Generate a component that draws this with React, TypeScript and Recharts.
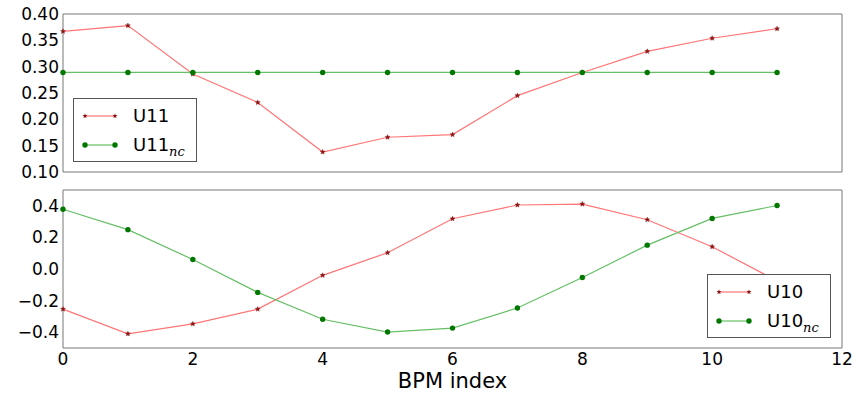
import React from "react";
import { LineChart, Line, XAxis, YAxis, Legend } from "recharts";

const bpmIndex = [0, 1, 2, 3, 4, 5, 6, 7, 8, 9, 10, 11];
const u11 = [0.367, 0.378, 0.286, 0.232, 0.138, 0.166, 0.171, 0.245, 0.289, 0.329, 0.354, 0.372];
const u11nc = [0.289, 0.289, 0.289, 0.289, 0.289, 0.289, 0.289, 0.289, 0.289, 0.289, 0.289, 0.289];
const u10 = [-0.254, -0.41, -0.347, -0.254, -0.04, 0.103, 0.318, 0.405, 0.411, 0.312, 0.141, -0.075];
const u10nc = [0.378, 0.249, 0.06, -0.148, -0.318, -0.399, -0.374, -0.247, -0.054, 0.151, 0.32, 0.402];

const xTicks = [0, 2, 4, 6, 8, 10, 12];
const topTicks = [0.1, 0.15, 0.2, 0.25, 0.3, 0.35, 0.4];
const bottomTicks = [-0.4, -0.2, 0, 0.2, 0.4];

const FONT = "'DejaVu Sans', sans-serif";
const FRAME = "#777777";
const RED_LINE = "#ff7575";
const RED_MARK = "#8b1414";
const GREEN_LINE = "#66bf66";
const GREEN_MARK = "#007800";

const topData = bpmIndex.map((x, i) => ({ x, u11: u11[i], u11nc: u11nc[i] }));
const bottomData = bpmIndex.map((x, i) => ({ x, u10: u10[i], u10nc: u10nc[i] }));

function starPath(cx: number, cy: number, r: number) {
  const pts: string[] = [];
  for (let k = 0; k < 10; k++) {
    const rad = k % 2 === 0 ? r : r * 0.45;
    const a = -Math.PI / 2 + (k * Math.PI) / 5;
    pts.push(`${cx + rad * Math.cos(a)},${cy + rad * Math.sin(a)}`);
  }
  return "M" + pts.join("L") + "Z";
}

const renderStar = (props: any) => {
  const { cx, cy, index } = props;
  if (cx == null || cy == null) return <g key={index} />;
  return <path key={index} d={starPath(cx, cy, 2.6)} fill={RED_MARK} stroke={RED_MARK} strokeWidth={0.4} />;
};

const minus = (s: string) => s.replace("-", "\u2212");

function LegendBox({ name }: { name: string }) {
  const row = (kind: "star" | "dot", sub: boolean) => (
    <div style={{ display: "flex", alignItems: "center", height: 29 }}>
      <svg width={50} height={12} style={{ marginLeft: 8, marginRight: 13 }}>
        <line x1={3} x2={33} y1={6} y2={6} stroke={kind === "star" ? RED_LINE : GREEN_LINE} strokeWidth={1.2} />
        {kind === "star" ? (
          <>
            <path d={starPath(3, 6, 2.6)} fill={RED_MARK} />
            <path d={starPath(33, 6, 2.6)} fill={RED_MARK} />
          </>
        ) : (
          <>
            <circle cx={3} cy={6} r={2.7} fill={GREEN_MARK} />
            <circle cx={33} cy={6} r={2.7} fill={GREEN_MARK} />
          </>
        )}
      </svg>
      <span style={{ fontSize: 18, color: "#000", marginLeft: -12 }}>
        {name}
        {sub && (
          <span style={{ fontFamily: "'DejaVu Serif', serif", fontStyle: "italic", fontSize: 13, position: "relative", top: 5 }}>
            nc
          </span>
        )}
      </span>
    </div>
  );
  return (
    <div
      style={{
        border: "1px solid #555",
        background: "#fff",
        width: 124,
        height: 64,
        boxSizing: "border-box",
        paddingTop: 2,
        fontFamily: FONT,
      }}
    >
      {row("star", false)}
      {row("dot", true)}
    </div>
  );
}

const frameProps = {
  stroke: FRAME,
  tick: false as const,
  tickSize: 4,
  mirror: true,
};

export default function App() {
  return (
    <div style={{ position: "absolute", left: 0, top: 0, width: 860, height: 394, background: "#fff", fontFamily: FONT }}>
      <div style={{ position: "absolute", left: 0, top: 0 }}>
        <LineChart width={860} height={190} data={topData} margin={{ top: 14, right: 18, bottom: 18, left: 8 }}>
          <XAxis xAxisId="x" dataKey="x" type="number" domain={[0, 12]} ticks={xTicks} orientation="bottom" height={1} {...frameProps} />
          <XAxis xAxisId="xt" dataKey="x" type="number" domain={[0, 12]} ticks={xTicks} orientation="top" height={1} {...frameProps} />
          <YAxis
            yAxisId="y"
            type="number"
            domain={[0.1, 0.4]}
            ticks={topTicks}
            width={55}
            tickSize={0}
            tickMargin={4}
            axisLine={false}
            tickLine={false}
            tickFormatter={(v: number) => v.toFixed(2)}
            tick={{ fontSize: 17, fill: "#000", fontFamily: FONT }}
          />
          <YAxis yAxisId="yl" type="number" domain={[0.1, 0.4]} ticks={topTicks} orientation="left" width={1} {...frameProps} />
          <YAxis yAxisId="yr" type="number" domain={[0.1, 0.4]} ticks={topTicks} orientation="right" width={1} {...frameProps} />
          <Legend
            layout="horizontal"
            verticalAlign="middle"
            align="center"
            wrapperStyle={{ left: 73, top: 98, width: 124, height: 64 }}
            content={() => <LegendBox name="U11" />}
          />
          <Line xAxisId="x" yAxisId="y" dataKey="u11" name="U11" stroke={RED_LINE} strokeWidth={1.2} dot={renderStar} isAnimationActive={false} />
          <Line
            xAxisId="x"
            yAxisId="y"
            dataKey="u11nc"
            name="U11nc"
            stroke={GREEN_LINE}
            strokeWidth={1.2}
            dot={{ r: 2.7, fill: GREEN_MARK, stroke: GREEN_MARK, strokeWidth: 0 }}
            isAnimationActive={false}
          />
        </LineChart>
      </div>
      <div style={{ position: "absolute", left: 0, top: 176 }}>
        <LineChart width={860} height={218} data={bottomData} margin={{ top: 14, right: 18, bottom: 0, left: 8 }}>
          <XAxis
            xAxisId="x"
            dataKey="x"
            type="number"
            domain={[0, 12]}
            ticks={xTicks}
            height={46}
            tickSize={0}
            tickMargin={5}
            axisLine={false}
            tickLine={false}
            tick={{ fontSize: 17, fill: "#000", fontFamily: FONT }}
            label={{ value: "BPM index", position: "insideBottom", offset: 6, style: { fontSize: 21, fill: "#000", fontFamily: FONT } }}
          />
          <XAxis xAxisId="xb" dataKey="x" type="number" domain={[0, 12]} ticks={xTicks} orientation="bottom" height={1} {...frameProps} />
          <XAxis xAxisId="xt" dataKey="x" type="number" domain={[0, 12]} ticks={xTicks} orientation="top" height={1} {...frameProps} />
          <YAxis
            yAxisId="y"
            type="number"
            domain={[-0.5, 0.5]}
            ticks={bottomTicks}
            width={55}
            tickSize={0}
            tickMargin={4}
            axisLine={false}
            tickLine={false}
            tickFormatter={(v: number) => minus(v.toFixed(1))}
            tick={{ fontSize: 17, fill: "#000", fontFamily: FONT }}
          />
          <YAxis yAxisId="yl" type="number" domain={[-0.5, 0.5]} ticks={bottomTicks} orientation="left" width={1} {...frameProps} />
          <YAxis yAxisId="yr" type="number" domain={[-0.5, 0.5]} ticks={bottomTicks} orientation="right" width={1} {...frameProps} />
          <Legend
            layout="horizontal"
            verticalAlign="middle"
            align="center"
            wrapperStyle={{ left: 707, top: 98, width: 124, height: 64 }}
            content={() => <LegendBox name="U10" />}
          />
          <Line xAxisId="x" yAxisId="y" dataKey="u10" name="U10" stroke={RED_LINE} strokeWidth={1.2} dot={renderStar} isAnimationActive={false} />
          <Line
            xAxisId="x"
            yAxisId="y"
            dataKey="u10nc"
            name="U10nc"
            stroke={GREEN_LINE}
            strokeWidth={1.2}
            dot={{ r: 2.7, fill: GREEN_MARK, stroke: GREEN_MARK, strokeWidth: 0 }}
            isAnimationActive={false}
          />
        </LineChart>
      </div>
    </div>
  );
}
